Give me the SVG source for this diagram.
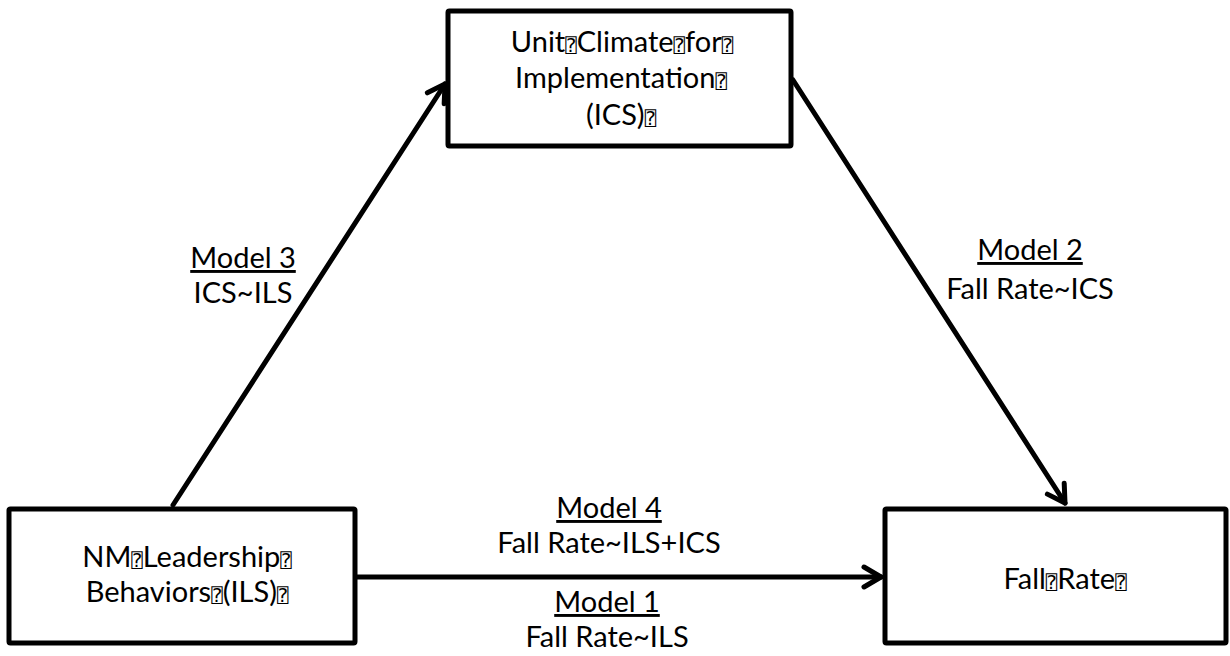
<svg xmlns="http://www.w3.org/2000/svg" width="1230" height="656" viewBox="0 0 1230 656">
  <style>
    .box { fill: #ffffff; stroke: #000000; stroke-width: 5; stroke-linejoin: round; }
    .txt { font-family: Lato, "Liberation Sans", sans-serif; font-size: 29px; fill: #000000; text-anchor: middle; }
    .tofu { font-family: "DejaVu Sans Mono", "DejaVu Sans", monospace; font-size: 19px; }
    .ul { text-decoration: underline; }
    .edge { fill: none; stroke: #000000; stroke-width: 5; stroke-linecap: round; }
  </style>
  <defs>
    <marker id="head" markerUnits="userSpaceOnUse" viewBox="-22 -14 26 28" markerWidth="26" markerHeight="28" refX="0" refY="0" orient="auto">
      <path d="M-17,-10 L0,0 L-17,10" fill="none" stroke="#000000" stroke-width="5" stroke-linecap="round" stroke-linejoin="round"/>
    </marker>
  </defs>

  <!-- connectors -->
  <g id="connectors">
    <line class="edge" x1="173" y1="505" x2="445" y2="84" marker-end="url(#head)"/>
    <line class="edge" x1="793" y1="80" x2="1065" y2="503" marker-end="url(#head)"/>
    <line class="edge" x1="357" y1="577" x2="881" y2="577" marker-end="url(#head)"/>
  </g>

  <!-- edge labels -->
  <g id="label-model3" class="txt">
    <text x="243" y="268" class="ul">Model 3</text>
    <text x="243" y="303">ICS~ILS</text>
  </g>
  <g id="label-model2" class="txt">
    <text x="1030" y="260" class="ul">Model 2</text>
    <text x="1030" y="299">Fall Rate~ICS</text>
  </g>
  <g id="label-model4" class="txt">
    <text x="609" y="518" class="ul">Model 4</text>
    <text x="609" y="553">Fall Rate~ILS+ICS</text>
  </g>
  <g id="label-model1" class="txt">
    <text x="607" y="612" class="ul">Model 1</text>
    <text x="607" y="647">Fall Rate~ILS</text>
  </g>

  <!-- nodes -->
  <g id="node-ics">
    <rect class="box" x="448" y="11" width="343" height="135" rx="1.5"/>
    <text class="txt" x="622" y="52">Unit<tspan class="tofu">⍰</tspan>Climate<tspan class="tofu">⍰</tspan>for<tspan class="tofu">⍰</tspan></text>
    <text class="txt" x="621" y="88">Implementation<tspan class="tofu">⍰</tspan></text>
    <text class="txt" x="621" y="125">(ICS)<tspan class="tofu">⍰</tspan></text>
  </g>
  <g id="node-ils">
    <rect class="box" x="9" y="509" width="346" height="134" rx="1.5"/>
    <text class="txt" x="187" y="567">NM<tspan class="tofu">⍰</tspan>Leadership<tspan class="tofu">⍰</tspan></text>
    <text class="txt" x="187" y="602">Behaviors<tspan class="tofu">⍰</tspan>(ILS)<tspan class="tofu">⍰</tspan></text>
  </g>
  <g id="node-fallrate">
    <rect class="box" x="885" y="509" width="341" height="134" rx="1.5"/>
    <text class="txt" x="1065" y="589">Fall<tspan class="tofu">⍰</tspan>Rate<tspan class="tofu">⍰</tspan></text>
  </g>
</svg>
